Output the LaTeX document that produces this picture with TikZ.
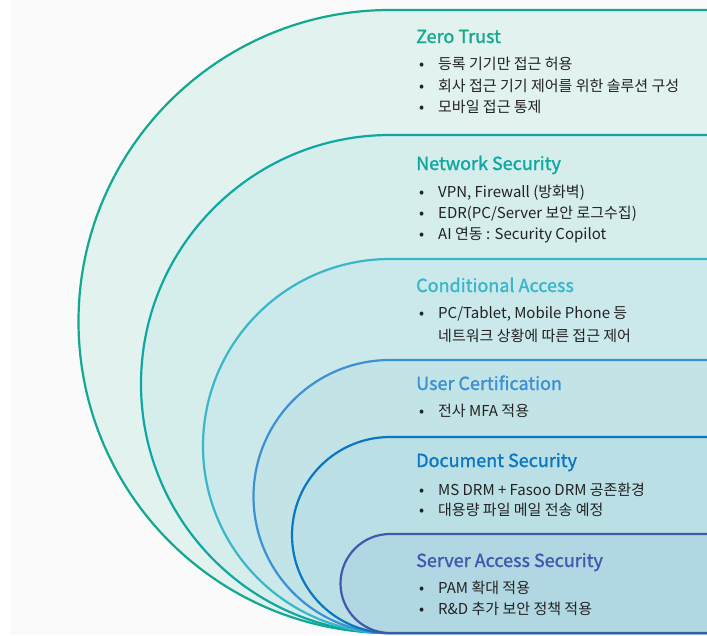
\documentclass[tikz,border=0pt]{standalone}
\usepackage{fontspec}
\setmainfont{Noto Sans CJK KR}
\newfontfamily\titlefont[FakeBold=1.3]{Noto Sans CJK KR}
\definecolor{bgray}{HTML}{FAFAFA}
\definecolor{txt}{HTML}{222222}
\definecolor{sA}{HTML}{13A88F}\definecolor{fA}{HTML}{E1F2EF}
\definecolor{sB}{HTML}{10A7A3}\definecolor{fB}{HTML}{D5EDEB}
\definecolor{sC}{HTML}{3AB6C9}\definecolor{fC}{HTML}{CBE9EA}
\definecolor{sD}{HTML}{3D90D3}\definecolor{fD}{HTML}{C3E4E6}
\definecolor{sE}{HTML}{0B76C1}\definecolor{fE}{HTML}{BADFE5}
\definecolor{sF}{HTML}{4059AC}\definecolor{fF}{HTML}{B1D8E2}
\tikzset{
  layer/.style={line width=2.2pt},
  ttl/.style={anchor=base west, inner sep=0pt, font=\titlefont\fontsize{18}{21}\selectfont},
  itm/.style={anchor=base west, inner sep=0pt, text=txt, font=\fontsize{15}{18}\selectfont},
}
\newcommand{\lay}[4]{% top, stroke, fill, name
  \draw[layer, draw=#2, fill=#3] (712,#1) -- (390,#1)
    arc[start angle=270, end angle=90, radius={(633-#1)/2}] -- (712,633) -- cycle;
}
\newcommand{\bul}{\makebox[19pt][l]{•}}
\begin{document}
\begin{tikzpicture}[x=1pt,y=-1pt]
\useasboundingbox (0,0) rectangle (707,635);
\clip (0,0) rectangle (707,635);
\fill[white] (0,0) rectangle (707,635);
\fill[bgray] (10,0) rectangle (707,635);
\lay{10}{sA}{fA}{a}
\lay{135}{sB}{fB}{b}
\lay{259}{sC}{fC}{c}
\lay{360}{sD}{fD}{d}
\lay{437}{sE}{fE}{e}
\lay{534}{sF}{fF}{f}
% Zero Trust
\node[ttl, text=sA] (t1) at (416,43) {Zero Trust};
\node[itm] (t1a) at (419,69) {\bul 등록 기기만 접근 허용};
\node[itm] (t1b) at (419,91) {\bul 회사 접근 기기 제어를 위한 솔루션 구성};
\node[itm] (t1c) at (419,112) {\bul 모바일 접근 통제};
% Network
\node[ttl, text=sB] (t2) at (416,170) {Network Security};
\node[itm] (t2a) at (419,197) {\bul VPN, Firewall (방화벽)};
\node[itm] (t2b) at (419,218) {\bul EDR(PC/Server 보안 로그수집)};
\node[itm] (t2c) at (419,239) {\bul AI 연동 : Security Copilot};
% Conditional
\node[ttl, text=sC] (t3) at (416,292) {Conditional Access};
\node[itm] (t3a) at (419,318) {\bul PC/Tablet, Mobile Phone 등};
\node[itm] (t3b) at (438,341) {네트워크 상황에 따른 접근 제어};
% User
\node[ttl, text=sD] (t4) at (416,390) {User Certification};
\node[itm] (t4a) at (419,416) {\bul 전사 MFA 적용};
% Document
\node[ttl, text=sE] (t5) at (416,467) {Document Security};
\node[itm] (t5a) at (419,495) {\bul MS DRM + Fasoo DRM 공존환경};
\node[itm] (t5b) at (419,515) {\bul 대용량 파일 메일 전송 예정};
% Server
\node[ttl, text=sF] (t6) at (416,567) {Server Access Security};
\node[itm] (t6a) at (419,593) {\bul PAM 확대 적용};
\node[itm] (t6b) at (419,614) {\bul R\&D 추가 보안 정책 적용};
\end{tikzpicture}
\end{document}
